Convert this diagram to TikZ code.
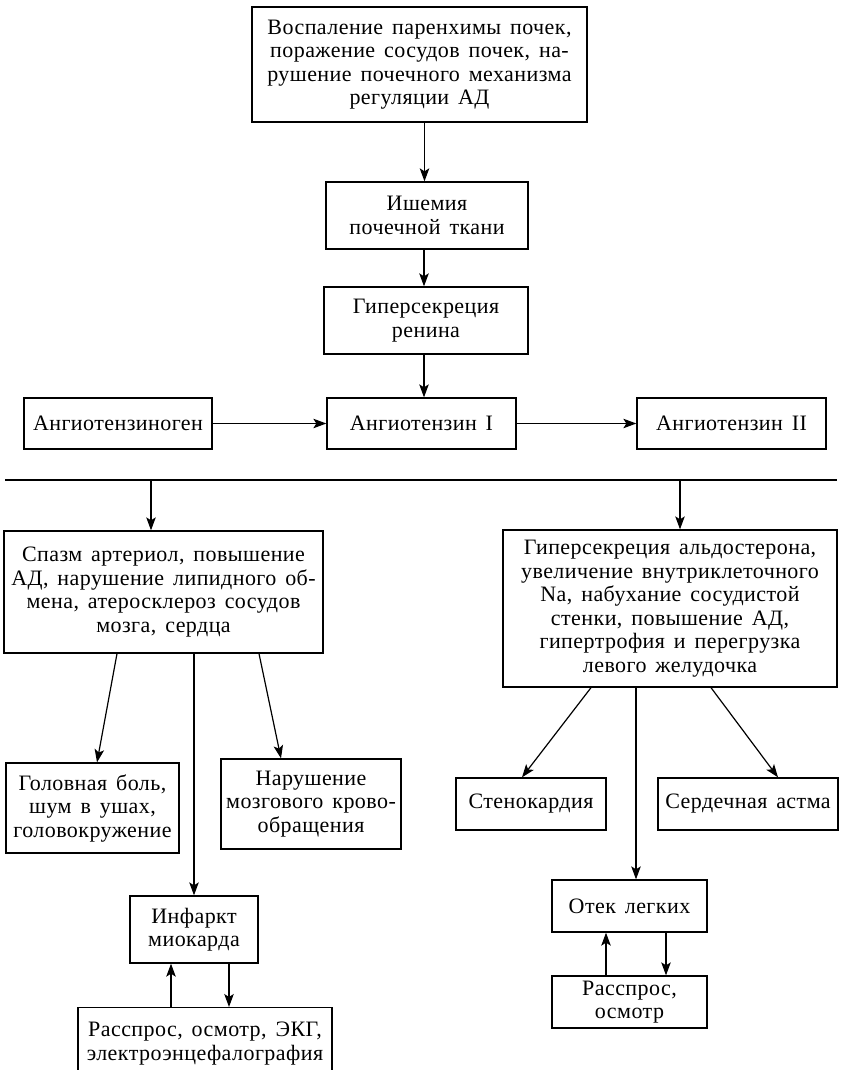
\documentclass[tikz,border=0pt]{standalone}
\usepackage{fontspec}
\setmainfont{Liberation Serif}[LetterSpace=2,WordSpace=1.5]
\usetikzlibrary{arrows.meta,calc}
\begin{document}
\begin{tikzpicture}[x=1pt,y=-1pt,
  box/.style={draw,line width=1.3pt,inner sep=0pt,align=center,
    font={\fontsize{22}{23.5}\selectfont}},
  arr/.style={line width=1.2pt,-{Stealth[length=13pt,width=9.5pt,inset=3pt]}}]
\useasboundingbox (0,0) rectangle (840,1070);
\clip (0,0) rectangle (840,1070);
% top chain
\node[box,minimum width=335,minimum height=115] (top) at (419.5,64.5)
  {Воспаление паренхимы почек,\\поражение сосудов почек, на-\\рушение почечного механизма\\регуляции АД};
\node[box,minimum width=202,minimum height=67] (isch) at (427,215.5)
  {Ишемия\\почечной ткани};
\node[box,minimum width=204,minimum height=67] (renin) at (426,320.5)
  {Гиперсекреция\\ренина};
\node[box,minimum width=188,minimum height=51] (angen) at (118,423.5) {Ангиотензиноген};
\node[box,minimum width=189,minimum height=51] (a1) at (421.5,423.5) {Ангиотензин I};
\node[box,minimum width=189,minimum height=51] (a2) at (731.5,423.5) {Ангиотензин II};
\draw[arr] ([xshift=-2.5pt]isch.north |- top.south) -- ([xshift=-2.5pt]isch.north);
\draw[arr] ([xshift=-3pt]isch.south) -- ([xshift=-3pt]isch.south |- renin.north);
\draw[arr] ([xshift=-2pt]renin.south) -- ([xshift=-2pt]renin.south |- a1.north);
\draw[arr] (angen.east) -- (a1.west);
\draw[arr] (a1.east) -- (a2.west);
% separator line
\coordinate (hlA) at (5,480);
\coordinate (hlB) at (837,480);
\draw[line width=1.2pt] (hlA) -- (hlB);
% left branch
\node[box,minimum width=319,minimum height=122] (spazm) at (163.5,592)
  {Спазм артериол, повышение\\АД, нарушение липидного об-\\мена, атеросклероз сосудов\\мозга, сердца};
\node[box,minimum width=334,minimum height=157] (aldo) at (670,608.5)
  {Гиперсекреция альдостерона,\\увеличение внутриклеточного\\Na, набухание сосудистой\\стенки, повышение АД,\\гипертрофия и перегрузка\\левого желудочка};
\draw[arr] ([xshift=-12.5pt]spazm.north |- hlA) -- ([xshift=-12.5pt]spazm.north);
\draw[arr] ([xshift=10pt]aldo.north |- hlA) -- ([xshift=10pt]aldo.north);
\node[box,minimum width=173,minimum height=90] (golov) at (92.5,808)
  {Головная боль,\\шум в ушах,\\головокружение};
\node[box,minimum width=180,minimum height=90] (mozg) at (311,804)
  {Нарушение\\мозгового крово-\\обращения};
\node[box,minimum width=128,minimum height=67] (infarkt) at (194,929.5)
  {Инфаркт\\миокарда};
\node[box,minimum width=254,minimum height=72,anchor=north] (ekg) at (205,1007)
  {Расспрос, осмотр, ЭКГ,\\электроэнцефалография};
\draw[arr] ([xshift=-46.5pt]spazm.south) -- ([xshift=4.5pt]golov.north);
\draw[arr] ([xshift=95.5pt]spazm.south) -- ([xshift=-30pt]mozg.north);
\draw[arr] ([xshift=30.5pt]spazm.south) -- (infarkt.north);
\draw[arr] ([xshift=-23pt]infarkt.south |- ekg.north) -- ([xshift=-23pt]infarkt.south);
\draw[arr] ([xshift=35pt]infarkt.south) -- ([xshift=35pt]infarkt.south |- ekg.north);
% right branch
\node[box,minimum width=150,minimum height=52] (steno) at (531,804) {Стенокардия};
\node[box,minimum width=180,minimum height=52] (astma) at (748,804) {Сердечная астма};
\node[box,minimum width=155,minimum height=52] (otek) at (629.5,906) {Отек легких};
\node[box,minimum width=155,minimum height=52] (rassp) at (629.5,1002)
  {Расспрос,\\осмотр};
\draw[arr] ([xshift=-79pt]aldo.south) -- ([xshift=-9pt]steno.north);
\draw[arr] ([xshift=41pt]aldo.south) -- ([xshift=30pt]astma.north);
\draw[arr] ([xshift=-34pt]aldo.south) -- ([xshift=6.5pt]otek.north);
\draw[arr] ([xshift=-23.5pt]otek.south |- rassp.north) -- ([xshift=-23.5pt]otek.south);
\draw[arr] ([xshift=36.5pt]otek.south) -- ([xshift=36.5pt]otek.south |- rassp.north);
\end{tikzpicture}
\end{document}
